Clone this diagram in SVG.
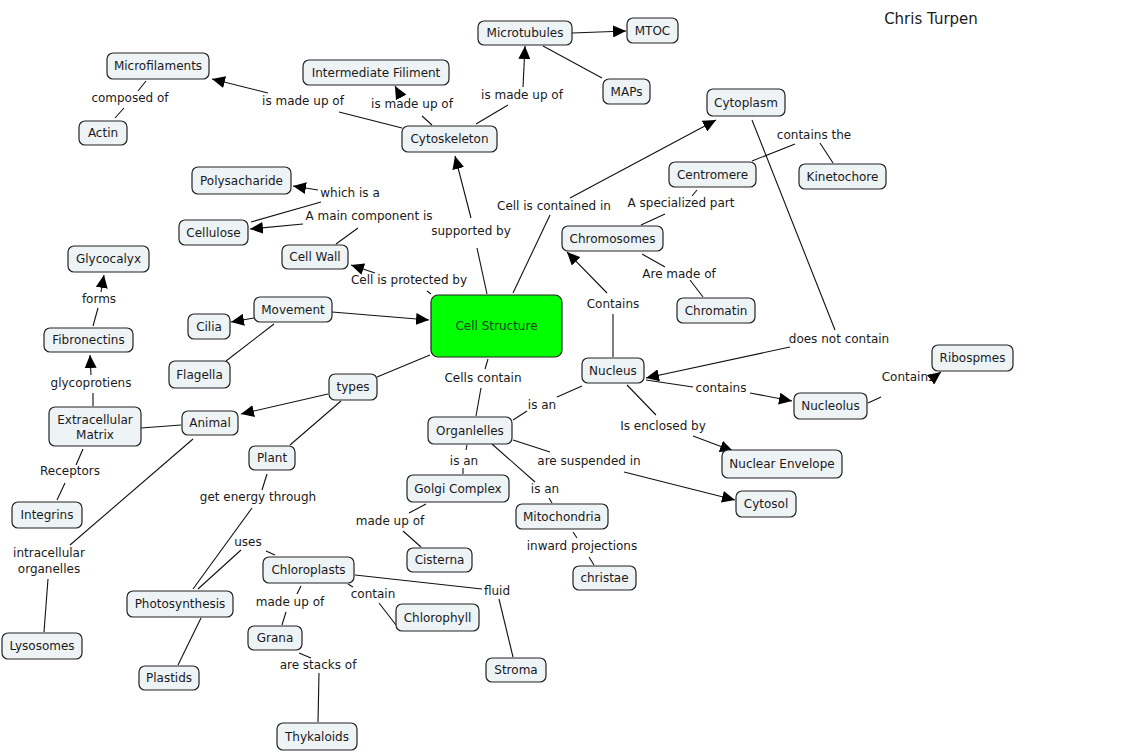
<svg xmlns="http://www.w3.org/2000/svg" width="1132" height="753" viewBox="0 0 1132 753">
<style>
.n rect{fill:#eef3f6;stroke:#222;stroke-width:1.2}
text{font-family:"DejaVu Sans",Verdana,sans-serif;font-size:12px;fill:#1a1a1a;text-anchor:middle}
.c line,.c path{stroke:#111;stroke-width:1.1;fill:none}
.a{marker-end:url(#ah)}
</style>
<defs>
<marker id="ah" markerUnits="userSpaceOnUse" markerWidth="14" markerHeight="12" refX="13" refY="6" orient="auto">
<path d="M0,0 L13,6 L0,12 z" fill="#000"/>
</marker>
</defs>
<rect width="1132" height="753" fill="#fff"/>
<text x="931" y="24" style="font-size:15px">Chris Turpen</text>

<g class="c" id="connectors">
<line x1="115" y1="118" x2="124" y2="108"/>
<line x1="138" y1="91" x2="146" y2="81"/>
<line x1="402" y1="128" x2="339" y2="112"/>
<line class="a" x1="268" y1="93" x2="212" y2="79"/>
<line x1="432" y1="125" x2="422" y2="116"/>
<line class="a" x1="401" y1="97" x2="395" y2="86"/>
<line x1="476" y1="124" x2="508" y2="105"/>
<line class="a" x1="523" y1="87" x2="525" y2="46"/>
<line class="a" x1="572" y1="33" x2="626" y2="31"/>
<line x1="543" y1="46" x2="602" y2="78"/>
<line x1="487" y1="294" x2="477" y2="248"/>
<line class="a" x1="471" y1="218" x2="455" y2="156"/>
<line x1="513" y1="293" x2="550" y2="215"/>
<line class="a" x1="570" y1="198" x2="716" y2="120"/>
<line x1="427" y1="291" x2="431" y2="294"/>
<line class="a" x1="375" y1="273" x2="351" y2="265"/>
<line x1="336" y1="244" x2="358" y2="228"/>
<line class="a" x1="303" y1="224" x2="250" y2="229"/>
<line x1="251" y1="222" x2="321" y2="202"/>
<line class="a" x1="318" y1="190" x2="293" y2="186"/>
<line class="a" x1="332" y1="312" x2="429" y2="320"/>
<line class="a" x1="254" y1="318" x2="231" y2="322"/>
<line x1="274" y1="324" x2="226" y2="361"/>
<line x1="430" y1="355" x2="377" y2="377"/>
<line class="a" x1="328" y1="394" x2="241" y2="414"/>
<line x1="341" y1="401" x2="290" y2="445"/>
<line x1="181" y1="425" x2="141" y2="428"/>
<line x1="93" y1="406" x2="93" y2="393"/>
<line class="a" x1="91" y1="375" x2="90" y2="355"/>
<line x1="93" y1="326" x2="98" y2="308"/>
<line class="a" x1="101" y1="292" x2="104" y2="275"/>
<line x1="83" y1="449" x2="76" y2="465"/>
<line x1="65" y1="483" x2="57" y2="500"/>
<line x1="193" y1="439" x2="70" y2="545"/>
<line x1="48" y1="579" x2="44" y2="632"/>
<line x1="267" y1="474" x2="262" y2="490"/>
<line x1="252" y1="508" x2="193" y2="589"/>
<line x1="198" y1="589" x2="241" y2="550"/>
<line x1="266" y1="551" x2="275" y2="555"/>
<line x1="201" y1="618" x2="178" y2="665"/>
<line x1="301" y1="586" x2="297" y2="594"/>
<line x1="286" y1="612" x2="282" y2="625"/>
<line x1="299" y1="653" x2="311" y2="658"/>
<line x1="319" y1="673" x2="318" y2="722"/>
<line x1="348" y1="584" x2="353" y2="587"/>
<line x1="379" y1="603" x2="396" y2="625"/>
<line x1="355" y1="575" x2="482" y2="589"/>
<line x1="499" y1="599" x2="513" y2="657"/>
<line x1="426" y1="504" x2="409" y2="513"/>
<line x1="403" y1="531" x2="421" y2="547"/>
<line x1="467" y1="445" x2="466" y2="450"/>
<line x1="463" y1="468" x2="463" y2="474"/>
<line x1="492" y1="444" x2="535" y2="482"/>
<line x1="549" y1="498" x2="552" y2="503"/>
<line x1="573" y1="532" x2="577" y2="538"/>
<line x1="589" y1="557" x2="594" y2="565"/>
<line x1="513" y1="440" x2="550" y2="452"/>
<line class="a" x1="624" y1="472" x2="735" y2="500"/>
<line x1="488" y1="359" x2="485" y2="369"/>
<line x1="481" y1="388" x2="476" y2="416"/>
<line x1="513" y1="420" x2="527" y2="411"/>
<line x1="557" y1="397" x2="582" y2="386"/>
<line x1="613" y1="357" x2="613" y2="314"/>
<line class="a" x1="607" y1="293" x2="567" y2="252"/>
<line x1="642" y1="254" x2="665" y2="267"/>
<line x1="690" y1="280" x2="703" y2="297"/>
<line x1="641" y1="225" x2="665" y2="214"/>
<line x1="692" y1="196" x2="697" y2="190"/>
<line x1="752" y1="161" x2="795" y2="144"/>
<line x1="820" y1="143" x2="833" y2="163"/>
<line x1="752" y1="120" x2="835" y2="330"/>
<line class="a" x1="790" y1="347" x2="646" y2="378"/>
<line x1="646" y1="380" x2="693" y2="387"/>
<line class="a" x1="750" y1="393" x2="792" y2="401"/>
<line x1="868" y1="403" x2="881" y2="397"/>
<line class="a" x1="933" y1="378" x2="941" y2="372"/>
<line x1="627" y1="385" x2="656" y2="415"/>
<line class="a" x1="693" y1="436" x2="733" y2="451"/>
</g>

<g id="labels">
<text x="130" y="102">composed of</text>
<text x="303" y="105">is made up of</text>
<text x="412" y="108">is made up of</text>
<text x="522" y="99">is made up of</text>
<text x="350" y="197">which is a</text>
<text x="369" y="220">A main component is</text>
<text x="409" y="284">Cell is protected by</text>
<text x="471" y="235">supported by</text>
<text x="554" y="210">Cell is contained in</text>
<text x="814" y="139">contains the</text>
<text x="681" y="207">A specialized part</text>
<text x="679" y="278">Are made of</text>
<text x="613" y="308">Contains</text>
<text x="839" y="343">does not contain</text>
<text x="908" y="381">Contains</text>
<text x="721" y="392">contains</text>
<text x="663" y="430">Is enclosed by</text>
<text x="542" y="409">is an</text>
<text x="483" y="382">Cells contain</text>
<text x="589" y="465">are suspended in</text>
<text x="464" y="465">is an</text>
<text x="545" y="493">is an</text>
<text x="390" y="525">made up of</text>
<text x="582" y="550">inward projections</text>
<text x="497" y="595">fluid</text>
<text x="373" y="598">contain</text>
<text x="290" y="606">made up of</text>
<text x="318" y="669">are stacks of</text>
<text x="248" y="546">uses</text>
<text x="258" y="501">get energy through</text>
<text x="49" y="557">intracellular</text>
<text x="49" y="573">organelles</text>
<text x="70" y="475">Receptors</text>
<text x="91" y="387">glycoprotiens</text>
<text x="99" y="303">forms</text>
</g>

<g id="microfilaments" class="n"><rect x="107" y="53" width="102" height="26" rx="6"/><text x="158" y="70">Microfilaments</text></g>
<g id="actin" class="n"><rect x="79" y="121" width="48" height="24" rx="6"/><text x="103" y="137">Actin</text></g>
<g id="intermediate" class="n"><rect x="303" y="60" width="146" height="25" rx="6"/><text x="376" y="77">Intermediate Filiment</text></g>
<g id="microtubules" class="n"><rect x="478" y="21" width="94" height="24" rx="6"/><text x="525" y="37">Microtubules</text></g>
<g id="mtoc" class="n"><rect x="627" y="18" width="51" height="25" rx="6"/><text x="652.5" y="35">MTOC</text></g>
<g id="maps" class="n"><rect x="603" y="79" width="47" height="25" rx="6"/><text x="626.5" y="96">MAPs</text></g>
<g id="cytoskeleton" class="n"><rect x="402" y="126" width="95" height="26" rx="6"/><text x="449.5" y="143">Cytoskeleton</text></g>
<g id="cytoplasm" class="n"><rect x="707" y="89" width="78" height="27" rx="6"/><text x="746" y="107">Cytoplasm</text></g>
<g id="centromere" class="n"><rect x="669" y="162" width="87" height="25" rx="6"/><text x="712.5" y="179">Centromere</text></g>
<g id="kinetochore" class="n"><rect x="799" y="164" width="87" height="25" rx="6"/><text x="842.5" y="181">Kinetochore</text></g>
<g id="polysacharide" class="n"><rect x="192" y="167" width="99" height="27" rx="6"/><text x="241.5" y="185">Polysacharide</text></g>
<g id="cellulose" class="n"><rect x="179" y="220" width="69" height="25" rx="6"/><text x="213.5" y="237">Cellulose</text></g>
<g id="cellwall" class="n"><rect x="282" y="245" width="66" height="24" rx="6"/><text x="315" y="261">Cell Wall</text></g>
<g id="glycocalyx" class="n"><rect x="68" y="246" width="81" height="26" rx="6"/><text x="108.5" y="263">Glycocalyx</text></g>
<g id="chromosomes" class="n"><rect x="562" y="226" width="101" height="25" rx="6"/><text x="612.5" y="243">Chromosomes</text></g>
<g id="chromatin" class="n"><rect x="677" y="298" width="78" height="25" rx="6"/><text x="716" y="315">Chromatin</text></g>
<g id="movement" class="n"><rect x="254" y="297" width="78" height="25" rx="6"/><text x="293" y="314">Movement</text></g>
<g id="cilia" class="n"><rect x="188" y="314" width="42" height="25" rx="6"/><text x="209" y="331">Cilia</text></g>
<g id="flagella" class="n"><rect x="169" y="361" width="61" height="27" rx="6"/><text x="199.5" y="379">Flagella</text></g>
<g id="fibronectins" class="n"><rect x="44" y="328" width="89" height="24" rx="6"/><text x="88.5" y="344">Fibronectins</text></g>
<g id="cellstructure" class="n"><rect x="431" y="295" width="131" height="62" rx="7" style="fill:#00ff00;stroke:#222"/><text x="496.5" y="330" style="fill:#1f3d1f">Cell Structure</text></g>
<g id="nucleus" class="n"><rect x="582" y="358" width="62" height="25" rx="6"/><text x="613" y="375">Nucleus</text></g>
<g id="ribospmes" class="n"><rect x="932" y="345" width="81" height="26" rx="6"/><text x="972.5" y="362">Ribospmes</text></g>
<g id="nucleolus" class="n"><rect x="794" y="393" width="73" height="26" rx="6"/><text x="830.5" y="410">Nucleolus</text></g>
<g id="types" class="n"><rect x="329" y="374" width="48" height="26" rx="6"/><text x="353" y="391">types</text></g>
<g id="ecm" class="n"><rect x="49" y="407" width="92" height="39" rx="6"/><text x="95" y="424">Extracellular</text><text x="95" y="439">Matrix</text></g>
<g id="animal" class="n"><rect x="182" y="411" width="56" height="24" rx="6"/><text x="210" y="427">Animal</text></g>
<g id="organlelles" class="n"><rect x="428" y="417" width="84" height="27" rx="6"/><text x="470" y="435">Organlelles</text></g>
<g id="nuclearenvelope" class="n"><rect x="722" y="450" width="120" height="28" rx="6"/><text x="782" y="468">Nuclear Envelope</text></g>
<g id="plant" class="n"><rect x="249" y="446" width="46" height="24" rx="6"/><text x="272" y="462">Plant</text></g>
<g id="golgi" class="n"><rect x="407" y="475" width="102" height="27" rx="6"/><text x="458" y="493">Golgi Complex</text></g>
<g id="cytosol" class="n"><rect x="736" y="491" width="60" height="26" rx="6"/><text x="766" y="508">Cytosol</text></g>
<g id="integrins" class="n"><rect x="12" y="502" width="70" height="26" rx="6"/><text x="47" y="519">Integrins</text></g>
<g id="mitochondria" class="n"><rect x="516" y="504" width="92" height="25" rx="6"/><text x="562" y="521">Mitochondria</text></g>
<g id="cisterna" class="n"><rect x="407" y="548" width="65" height="24" rx="6"/><text x="439.5" y="564">Cisterna</text></g>
<g id="chloroplasts" class="n"><rect x="263" y="557" width="91" height="26" rx="6"/><text x="308.5" y="574">Chloroplasts</text></g>
<g id="christae" class="n"><rect x="573" y="566" width="63" height="24" rx="6"/><text x="604.5" y="582">christae</text></g>
<g id="photosynthesis" class="n"><rect x="127" y="591" width="106" height="26" rx="6"/><text x="180" y="608">Photosynthesis</text></g>
<g id="chlorophyll" class="n"><rect x="396" y="604" width="83" height="27" rx="6"/><text x="437.5" y="622">Chlorophyll</text></g>
<g id="lysosomes" class="n"><rect x="2" y="633" width="80" height="26" rx="6"/><text x="42" y="650">Lysosomes</text></g>
<g id="grana" class="n"><rect x="248" y="626" width="54" height="24" rx="6"/><text x="275" y="642">Grana</text></g>
<g id="stroma" class="n"><rect x="486" y="658" width="60" height="24" rx="6"/><text x="516" y="674">Stroma</text></g>
<g id="plastids" class="n"><rect x="139" y="666" width="60" height="24" rx="6"/><text x="169" y="682">Plastids</text></g>
<g id="thykaloids" class="n"><rect x="277" y="723" width="80" height="27" rx="6"/><text x="317" y="741">Thykaloids</text></g>
</svg>
